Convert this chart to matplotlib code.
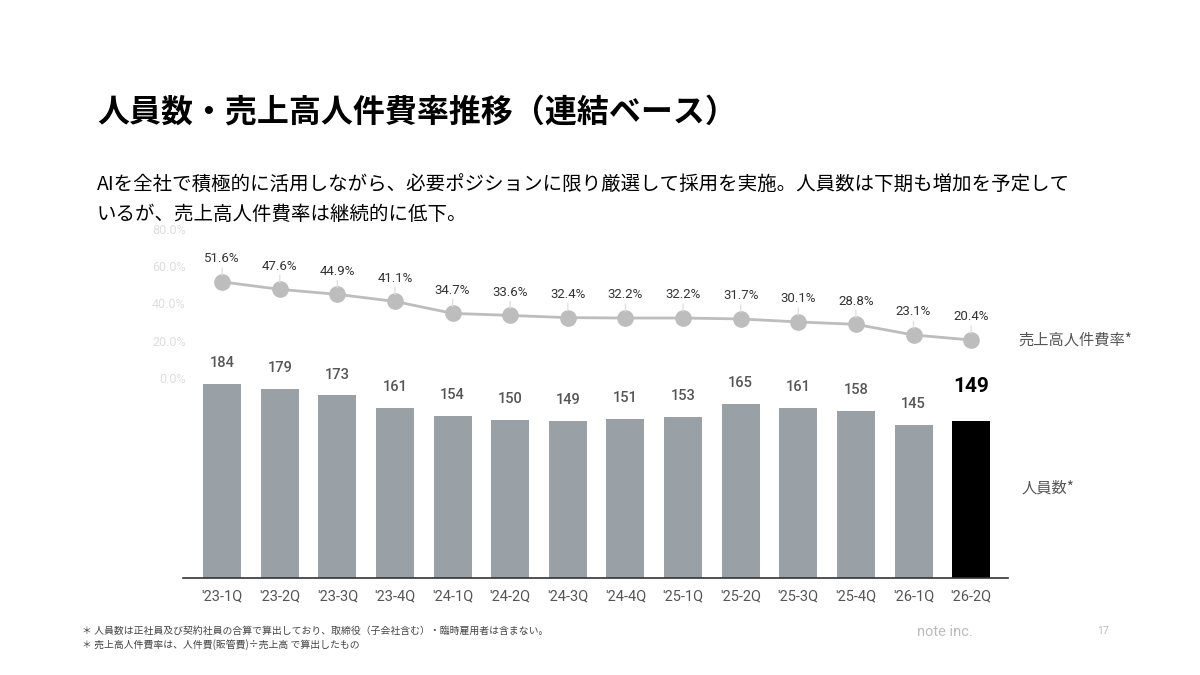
import numpy as np
import matplotlib.pyplot as plt

plt.rcParams['font.family'] = ['Noto Sans CJK JP', 'DejaVu Sans']

quarters = ["'23-1Q", "'23-2Q", "'23-3Q", "'23-4Q", "'24-1Q", "'24-2Q", "'24-3Q",
            "'24-4Q", "'25-1Q", "'25-2Q", "'25-3Q", "'25-4Q", "'26-1Q", "'26-2Q"]
headcount = [184, 179, 173, 161, 154, 150, 149, 151, 153, 165, 161, 158, 145, 149]
cost_ratio = [51.6, 47.6, 44.9, 41.1, 34.7, 33.6, 32.4, 32.2, 32.2, 31.7, 30.1, 28.8, 23.1, 20.4]
pct_ticks = [0, 20, 40, 60, 80]

W, H = 1200, 675
fig = plt.figure(figsize=(12, 6.75), dpi=100)

# axes box in pixels: x 183..1008, y 229..578
left, right, top, bottom = 183, 1008, 229, 578
ax = fig.add_axes([left / W, 1 - bottom / H, (right - left) / W, (bottom - top) / H])
x = np.arange(len(quarters))
colors = ['#9aa1a6'] * (len(quarters) - 1) + ['#000000']
ax.bar(x, headcount, width=0.66, color=colors, zorder=2)
ax.set_xlim(-0.68, 13.64)
ax.set_ylim(0, 330.8)
for i, v in enumerate(headcount):
    if i == len(headcount) - 1:
        ax.annotate(str(v), (i, v), xytext=(0, 18), textcoords='offset points',
                    ha='center', va='bottom', fontsize=15, fontweight='bold',
                    color='black', family=['Roboto', 'Noto Sans CJK JP'])
    else:
        ax.annotate(str(v), (i, v), xytext=(0, 10), textcoords='offset points',
                    ha='center', va='bottom', fontsize=10.5, fontweight='medium',
                    color='#555555', family=['Roboto', 'Noto Sans CJK JP'])
ax.set_xticks(x)
ax.set_xticklabels(quarters, fontsize=10.5, color='#555555', family=['Roboto', 'Noto Sans CJK JP'])
ax.tick_params(axis='x', length=0, pad=8)
ax.set_yticks([])
for s in ['top', 'right', 'left']:
    ax.spines[s].set_visible(False)
ax.spines['bottom'].set_color('#333333')
ax.spines['bottom'].set_linewidth(1.2)

ax2 = ax.twinx()
ax2.set_ylim(-107.4, 80)
ax2.plot(x, cost_ratio, color='#bdbdbd', lw=2, marker='o', ms=11,
         markerfacecolor='#bdbdbd', markeredgecolor='#bdbdbd', zorder=3)
for i, v in enumerate(cost_ratio):
    ax2.annotate(f'{v:.1f}%', (i, v), xytext=(0, 12), textcoords='offset points',
                 ha='center', va='bottom', fontsize=9.5, color='#333333',
                 family=['Roboto', 'Noto Sans CJK JP'],
                 arrowprops=dict(arrowstyle='-', color='#e0e0e0', lw=1,
                                 shrinkA=0, shrinkB=5))
ax2.yaxis.tick_left()
ax2.set_yticks(pct_ticks)
ax2.set_yticklabels([f'{t:.1f}%' for t in pct_ticks], fontsize=9, color='#dedede',
                    family=['Roboto', 'Noto Sans CJK JP'])
ax2.tick_params(axis='y', length=0, pad=-2)
for s in ax2.spines.values():
    s.set_visible(False)

fig.text(1018 / W, 1 - 340 / H, '売上高人件費率*', fontsize=11, color='#555555', va='center')
fig.text(1022 / W, 1 - 488 / H, '人員数*', fontsize=11, color='#555555', va='center')

fig.text(97 / W, 1 - 113 / H, '人員数・売上高人件費率推移（連結ベース）',
         fontsize=23, fontweight='bold', color='black', va='center')
fig.text(97 / W, 1 - 185 / H,
         'AIを全社で積極的に活用しながら、必要ポジションに限り厳選して採用を実施。人員数は下期も増加を予定して',
         fontsize=14, color='black', va='center')
fig.text(97 / W, 1 - 214 / H, 'いるが、売上高人件費率は継続的に低下。',
         fontsize=14, color='black', va='center')

fig.text(82 / W, 1 - 631 / H,
         '＊ 人員数は正社員及び契約社員の合算で算出しており、取締役（子会社含む）・臨時雇用者は含まない。',
         fontsize=7.1, color='#444444', va='center')
fig.text(82 / W, 1 - 645 / H,
         '＊ 売上高人件費率は、人件費(販管費)÷売上高 で算出したもの',
         fontsize=7.1, color='#444444', va='center')
fig.text(945 / W, 1 - 632 / H, 'note inc.', fontsize=10.5, color='#bbbbbb',
         ha='center', va='center', family=['Roboto', 'DejaVu Sans'])
fig.text(1103 / W, 1 - 631 / H, '17', fontsize=7.5, color='#bbbbbb',
         ha='center', va='center', family=['Roboto', 'DejaVu Sans'])

fig.savefig('out.png', dpi=100, facecolor='white')
